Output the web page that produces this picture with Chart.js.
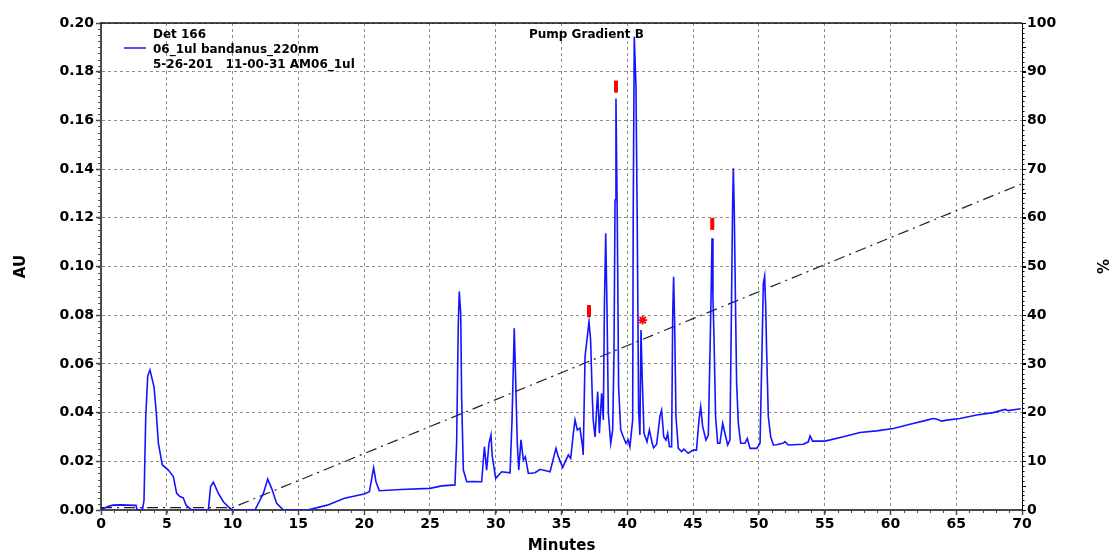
<!DOCTYPE html>
<html>
<head>
<meta charset="utf-8">
<script src="https://cdn.jsdelivr.net/npm/chart.js@4.4.1/dist/chart.umd.min.js"></script>
<style>
  html, body { margin: 0; padding: 0; background: #fff; }
</style>
</head>
<body>
<canvas id="chrom" width="1113" height="552"></canvas>
<script>
const $ = (id) => document.getElementById(id);

// trace: time (min) / absorbance (AU)
const minutes = [
  0, 0.63, 0.9, 1.5, 2.0, 2.66, 2.74, 3.04, 3.15, 3.27, 3.4, 3.55, 3.72, 4.03, 4.2, 4.36, 4.66, 5.12, 5.5, 5.75,
  6.0, 6.25, 6.46, 6.9, 8.16, 8.33, 8.54, 8.92, 9.3, 9.8, 10.05, 11.7, 12.34, 12.67, 12.97, 13.35, 13.86, 15.7, 17.2, 18.5,
  20.0, 20.4, 20.72, 20.9, 21.15, 22.8, 25.0, 25.9, 26.9, 27.03, 27.15, 27.23, 27.34, 27.41, 27.54, 27.8, 28.2, 28.93, 29.14, 29.31,
  29.49, 29.64, 29.74, 30.0, 30.45, 31.09, 31.24, 31.41, 31.51, 31.64, 31.75, 31.92, 32.1, 32.25, 32.48, 32.99, 33.37, 34.13, 34.58, 34.76,
  35.09, 35.52, 35.7, 35.9, 36.03, 36.2, 36.4, 36.6, 36.65, 36.79, 36.99, 37.09, 37.21, 37.34, 37.41, 37.55, 37.75, 37.88, 38.05, 38.18,
  38.26, 38.36, 38.46, 38.56, 38.74, 38.89, 38.99, 39.07, 39.14, 39.24, 39.34, 39.5, 39.7, 39.9, 40.07, 40.2, 40.41, 40.45, 40.53, 40.66,
  40.76, 40.86, 40.96, 41.04, 41.14, 41.27, 41.5, 41.68, 41.87, 42.0, 42.23, 42.49, 42.61, 42.77, 42.94, 43.07, 43.2, 43.37, 43.45, 43.52,
  43.6, 43.7, 43.88, 44.13, 44.3, 44.63, 45.0, 45.26, 45.45, 45.58, 45.73, 45.98, 46.16, 46.29, 46.39, 46.44, 46.51, 46.59, 46.71, 46.87,
  47.04, 47.25, 47.42, 47.63, 47.8, 47.91, 48.0, 48.06, 48.13, 48.21, 48.31, 48.44, 48.62, 48.94, 49.12, 49.33, 49.84, 50.09, 50.24, 50.34,
  50.44, 50.52, 50.59, 50.72, 50.9, 51.1, 51.35, 51.86, 51.98, 52.24, 53.38, 53.76, 53.89, 54.09, 55.03, 56.42, 57.69, 58.95, 60.22, 61.49,
  62.63, 63.26, 63.51, 63.89, 64.27, 65.29, 66.55, 67.82, 68.71, 68.96, 69.9
];
const absorbance = [
  0.0003, 0.0016, 0.002, 0.0021, 0.002, 0.0019, 0.0002, 0, 0, 0.004, 0.038, 0.055, 0.0575, 0.0506, 0.04, 0.0275, 0.0185, 0.0164, 0.0137, 0.0068,
  0.0055, 0.005, 0.002, 0, 0, 0.0096, 0.0114, 0.0068, 0.0034, 0.0007, 0, 0, 0.0068, 0.0127, 0.0089, 0.0027, 0, 0, 0.002, 0.0048,
  0.0066, 0.0075, 0.0174, 0.0116, 0.0079, 0.0084, 0.0089, 0.0099, 0.0103, 0.0274, 0.075, 0.0897, 0.0808, 0.0465, 0.0164, 0.0116, 0.0117, 0.0116, 0.026, 0.0164,
  0.0274, 0.0308, 0.0219, 0.013, 0.0157, 0.0153, 0.037, 0.0746, 0.0548, 0.0274, 0.0164, 0.0288, 0.0205, 0.0219, 0.015, 0.0153, 0.0167, 0.0157, 0.0253, 0.0219,
  0.0175, 0.0226, 0.0212, 0.0315, 0.037, 0.0329, 0.0336, 0.026, 0.0226, 0.063, 0.0725, 0.0773, 0.07, 0.0465, 0.037, 0.03, 0.0486, 0.0315, 0.0479, 0.037,
  0.0835, 0.1136, 0.082, 0.0397, 0.0274, 0.0329, 0.0643, 0.1273, 0.169, 0.119, 0.0505, 0.0329, 0.03, 0.0274, 0.0288, 0.026, 0.037, 0.119, 0.1944, 0.174,
  0.116, 0.0412, 0.0308, 0.0739, 0.0534, 0.0315, 0.028, 0.0329, 0.028, 0.0255, 0.027, 0.0387, 0.041, 0.0301, 0.0287, 0.0315, 0.026, 0.026, 0.0794, 0.0958,
  0.0767, 0.0383, 0.0253, 0.024, 0.025, 0.0233, 0.0246, 0.0246, 0.037, 0.0424, 0.0342, 0.0287, 0.0308, 0.0657, 0.0945, 0.1116, 0.0876, 0.0712, 0.0383, 0.0274,
  0.0274, 0.0356, 0.0315, 0.0267, 0.0287, 0.0794, 0.1232, 0.1403, 0.123, 0.0904, 0.052, 0.0356, 0.0274, 0.0274, 0.0294, 0.0253, 0.0253, 0.0274, 0.0657, 0.0931,
  0.0961, 0.0835, 0.0657, 0.0383, 0.0301, 0.0267, 0.0268, 0.0275, 0.0281, 0.0267, 0.027, 0.028, 0.0304, 0.0283, 0.0283, 0.0301, 0.0318, 0.0325, 0.0335, 0.0352,
  0.0367, 0.0376, 0.0374, 0.0365, 0.0369, 0.0376, 0.039, 0.04, 0.0413, 0.0408, 0.0416
];

// pump gradient B (%)
const gradientMinutes = [0, 10, 70];
const gradientPercent = [0.5, 0.5, 67];

// red annotations
const barMarkMinutes = [37.09, 39.14, 46.46];
const barMarkAU = [0.0817, 0.1739, 0.1175];
const starMarkMinutes = [41.17];
const starMarkAU = [0.078];

const legendLines = ["Det 166", "06_1ul bandanus_220nm", "5-26-201   11-00-31 AM06_1ul"];
const gradientLabel = "Pump Gradient B";

const BLUE = "#1414ff";
const GRID = "#8e8e8e";
const AXIS = "#4a4a4a";
const FONT = "'DejaVu Sans', Verdana, sans-serif";

Chart.defaults.font.family = FONT;
Chart.defaults.font.weight = "bold";
Chart.defaults.color = "#000";

const toPoints = (xs, ys) => xs.map((x, i) => ({ x, y: ys[i] }));

const extras = {
  id: "extras",
  afterDraw(chart) {
    const { ctx, chartArea: a, scales } = chart;
    const { x, y, y2 } = scales;
    ctx.save();
    // frame top
    ctx.strokeStyle = "#111";
    ctx.lineWidth = 1.5;
    ctx.beginPath();
    ctx.moveTo(a.left, a.top);
    ctx.lineTo(a.right, a.top);
    ctx.stroke();

    // minor ticks
    ctx.lineWidth = 1;
    ctx.strokeStyle = AXIS;
    ctx.beginPath();
    for (let m = 0; m <= 70; m += 1) {
      const px = Math.round(x.getPixelForValue(m)) + 0.5;
      ctx.moveTo(px, a.bottom);
      ctx.lineTo(px, a.bottom + 3);
    }
    for (let i = 0; i <= 80; i++) {
      const py = Math.round(y.getPixelForValue(i * 0.0025)) + 0.5;
      ctx.moveTo(a.left, py);
      ctx.lineTo(a.left - 3, py);
    }
    ctx.stroke();
    ctx.strokeStyle = "#000";
    ctx.beginPath();
    for (let p = 0; p <= 100; p++) {
      const py = Math.round(y2.getPixelForValue(p)) + 0.5;
      ctx.moveTo(a.right, py);
      ctx.lineTo(a.right + (p % 5 === 0 ? 4 : 2.5), py);
    }
    ctx.stroke();

    // legend block
    ctx.fillStyle = "#000";
    ctx.font = `bold 12px ${FONT}`;
    ctx.textBaseline = "alphabetic";
    ctx.textAlign = "left";
    legendLines.forEach((t, i) => ctx.fillText(t, a.left + 52, a.top + 14.5 + i * 15));
    ctx.strokeStyle = BLUE;
    ctx.lineWidth = 1.5;
    ctx.beginPath();
    ctx.moveTo(a.left + 23, a.top + 25);
    ctx.lineTo(a.left + 45, a.top + 25);
    ctx.stroke();
    ctx.fillText(gradientLabel, a.left + 428, a.top + 14.5);
    ctx.restore();
  }
};

new Chart($("chrom"), {
  type: "line",
  data: {
    datasets: [
      {
        label: "marks",
        data: toPoints(barMarkMinutes, barMarkAU),
        yAxisID: "y",
        showLine: false,
        pointStyle: "line",
        rotation: 90,
        pointRadius: 6,
        pointBorderWidth: 4,
        pointBorderColor: "#ff0000",
        pointBackgroundColor: "#ff0000",
        order: 0
      },
      {
        label: "star",
        data: toPoints(starMarkMinutes, starMarkAU),
        yAxisID: "y",
        showLine: false,
        pointStyle: "star",
        pointRadius: 4.5,
        pointBorderWidth: 1.8,
        pointBorderColor: "#ff0000",
        order: 1
      },
      {
        label: legendLines[1],
        data: toPoints(minutes, absorbance),
        yAxisID: "y",
        borderColor: BLUE,
        borderWidth: 1.6,
        pointRadius: 0,
        tension: 0,
        order: 2
      },
      {
        label: gradientLabel,
        data: toPoints(gradientMinutes, gradientPercent),
        yAxisID: "y2",
        borderColor: "#222",
        borderWidth: 1.2,
        borderDash: [11, 5, 2, 5],
        pointRadius: 0,
        tension: 0,
        order: 3
      }
    ]
  },
  options: {
    responsive: false,
    animation: false,
    layout: { padding: { top: 23, left: 0, right: 0, bottom: 0 } },
    plugins: { legend: { display: false }, tooltip: { enabled: false } },
    scales: {
      x: {
        type: "linear",
        min: 0,
        max: 70,
        afterFit: (s) => { s.height = 42; },
        ticks: { stepSize: 5, padding: 1, maxRotation: 0, font: { size: 14, weight: "bold" } },
        grid: { color: GRID, tickColor: AXIS, tickLength: 5, tickWidth: 1.5 },
        border: { color: AXIS, width: 2, dash: [3, 3] },
        title: { display: true, text: "Minutes", font: { size: 15, weight: "bold", lineHeight: 1 }, padding: { top: 0, bottom: -2 } }
      },
      y: {
        position: "left",
        min: 0,
        max: 0.2,
        afterFit: (s) => { s.width = 101; },
        ticks: { stepSize: 0.02, padding: 2, callback: (v) => v.toFixed(2), font: { size: 14, weight: "bold" } },
        grid: { color: GRID, tickColor: AXIS, tickLength: 5, tickWidth: 1.5 },
        border: { color: AXIS, width: 2, dash: [3, 3] },
        title: { display: true, text: "AU", font: { size: 15, weight: "bold" }, padding: { top: 12, bottom: 0 } }
      },
      y2: {
        position: "right",
        min: 0,
        max: 100,
        afterFit: (s) => { s.width = 91; },
        ticks: { stepSize: 10, padding: 1, font: { size: 14, weight: "bold" } },
        grid: { drawOnChartArea: false, tickColor: "#000", tickLength: 4 },
        border: { color: "#000", width: 1 },
        title: { display: true, text: "%", font: { size: 15, weight: "bold" }, padding: { top: 3, bottom: 0 } }
      }
    }
  },
  plugins: [extras]
});
</script>
</body>
</html>
